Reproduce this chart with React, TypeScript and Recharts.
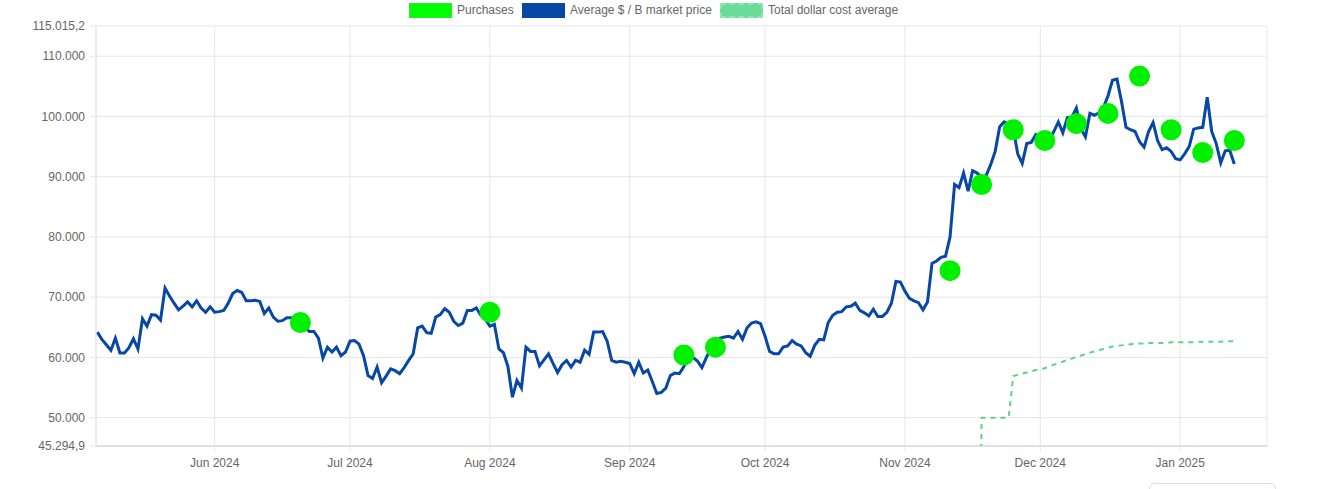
import React from "react";
import { ComposedChart, Line, XAxis, YAxis, CartesianGrid } from "recharts";

// daily average market price, first value is 2024-05-06
const PRICE_START = "2024-05-06";
const marketPrices = [
  64200, 63000, 62100, 61200, 63200, 60750, 60750, 61600, 63100, 61400,
  66400, 65200, 67100, 67000, 66200, 71500, 70200, 69000, 67900, 68500,
  69200, 68400, 69400, 68200, 67500, 68400, 67500, 67600, 67800, 69000,
  70600, 71100, 70800, 69400, 69400, 69500, 69300, 67300, 68200, 66700,
  66000, 66100, 66600, 66600, 66200, 65600, 64900, 64300, 64300, 63200,
  59900, 61700, 60900, 61700, 60300, 60900, 62700, 62800, 62200, 60300,
  57000, 56500, 58400, 55800, 56900, 58100, 57800, 57300, 58300, 59500,
  60600, 64900, 65200, 64100, 64000, 66700, 67100, 68100, 67500, 66000,
  65300, 65700, 67800, 67800, 68200, 67000, 66300, 65200, 65500, 61400,
  60800, 58500, 53400, 56200, 54900, 61700, 61000, 61000, 58600, 59600,
  60600, 59000, 57500, 58800, 59500, 58400, 59500, 59200, 61200, 60500,
  64200, 64200, 64300, 62700, 59500, 59200, 59350, 59200, 59000, 57300,
  59200, 57400, 57900, 56000, 54000, 54200, 54900, 57000, 57400, 57300,
  58500, 60200, 60000, 59400, 58300, 60000, 61500, 62600, 63200, 63400,
  63500, 63200, 64300, 63000, 64900, 65700, 65900, 65600, 63500, 61000,
  60600, 60600, 61700, 61900, 62800, 62200, 61900, 60800, 60200, 62000,
  63000, 62900, 65800, 67000, 67500, 67600, 68400, 68500, 69000, 67800,
  67400, 66900, 68000, 66800, 66800, 67500, 69000, 72600, 72500, 71000,
  69800, 69400, 69100, 67900, 69200, 75600, 76000, 76600, 76800, 80000,
  88700, 88200, 90600, 87600, 91000, 90600, 89900, 90200, 92000, 94200,
  98300, 99100, 98700, 98000, 93800, 92200, 95500, 95700, 97000, 96500,
  96200, 96000, 97500, 99100, 97300, 99800, 99900, 101400, 98000, 96600,
  100500, 100200, 100600, 101500, 103400, 106000, 106200, 102500, 98200, 97800,
  97500, 95800, 94900, 97500, 99000, 96000, 94500, 94800, 94200, 93000,
  92800, 93800, 95000, 97900, 98100, 98200, 103200, 97500, 95500, 92300,
  94300, 94400, 92100,
];

const purchaseDates = [
  "2024-06-20", "2024-08-01", "2024-09-13", "2024-09-20", "2024-11-11",
  "2024-11-18", "2024-11-25", "2024-12-02", "2024-12-09", "2024-12-16",
  "2024-12-23", "2024-12-30", "2025-01-06", "2025-01-13",
];
const purchasePrices = [
  65800, 67500, 60400, 61700, 74400, 88700, 97800, 96000, 98800, 100500,
  106700, 97800, 94000, 96000,
];

// total dollar cost average, first value is 2024-11-17
const DCA_START = "2024-11-17";
const dcaValues = [
  0, 50000, 50000, 50000, 50000, 50000, 50000, 50000,
  56900, 57100, 57300, 57500, 57700, 57900, 58050, 58200, 58500, 58800,
  59000, 59300, 59600, 59800, 60100, 60300, 60500, 60800, 61000, 61200,
  61400, 61600, 61800, 61900, 62000, 62100, 62200, 62300, 62300, 62300,
  62400, 62400, 62400, 62400, 62400, 62500, 62500, 62500, 62500, 62500,
  62500, 62600, 62600, 62600, 62600, 62600, 62600, 62700, 62700, 62700,
];

const yTicks = [45294.9, 50000, 60000, 70000, 80000, 90000, 100000, 110000, 115015.2];
const xTickDates = [
  "2024-06-01", "2024-07-01", "2024-08-01", "2024-09-01",
  "2024-10-01", "2024-11-01", "2024-12-01", "2025-01-01",
];
const monthNames = ["Jan", "Feb", "Mar", "Apr", "May", "Jun", "Jul", "Aug", "Sep", "Oct", "Nov", "Dec"];

const DAY = 86400000;
const toTime = (s: string) => Date.parse(s + "T00:00:00Z");
const t0 = toTime(PRICE_START);
const dayIndex = (s: string) => Math.round((toTime(s) - t0) / DAY);

type Row = { t: number; price: number; purchase: number | null; dca: number | null };
const data: Row[] = marketPrices.map((price, i) => ({ t: t0 + i * DAY, price, purchase: null, dca: null }));
purchaseDates.forEach((d, k) => {
  data[dayIndex(d)].purchase = purchasePrices[k];
});
const dcaOffset = dayIndex(DCA_START);
dcaValues.forEach((v, k) => {
  data[dcaOffset + k].dca = v;
});

const xTicks = xTickDates.map(toTime);

function fmtDe(v: number) {
  const s = Number.isInteger(v) ? String(v) : v.toFixed(1);
  const [intPart, dec] = s.split(".");
  const grouped = intPart.replace(/\B(?=(\d{3})+(?!\d))/g, ".");
  return dec ? `${grouped},${dec}` : grouped;
}

function fmtMonth(t: number) {
  const d = new Date(t);
  return `${monthNames[d.getUTCMonth()]} ${d.getUTCFullYear()}`;
}

const FONT = "'Liberation Sans', Arial, Helvetica, sans-serif";
const tickStyle = { fill: "#666", fontSize: 12, fontFamily: FONT };

function LegendItem({ left, label, box }: { left: number; label: string; box: React.CSSProperties }) {
  return (
    <>
      <div style={{ position: "absolute", left, top: 3, width: 43, height: 15, boxSizing: "border-box", ...box }} />
      <div
        style={{
          position: "absolute",
          left: left + 48,
          top: 3,
          lineHeight: "15px",
          fontSize: 12,
          fontFamily: FONT,
          color: "#666",
          whiteSpace: "nowrap",
        }}
      >
        {label}
      </div>
    </>
  );
}

export default function App() {
  return (
    <div
      style={{
        position: "fixed",
        left: 0,
        top: 0,
        width: 1339,
        height: 489,
        overflow: "hidden",
        background: "#fff",
      }}
    >
      <ComposedChart width={1339} height={489} data={data} margin={{ top: 26, right: 72, bottom: 13, left: 0 }}>
        <CartesianGrid stroke="#e6e6e6" />
        <XAxis
          dataKey="t"
          type="number"
          scale="linear"
          domain={[t0 - 0.3 * DAY, t0 + 259.25 * DAY]}
          allowDataOverflow
          ticks={xTicks}
          tickFormatter={fmtMonth}
          tick={tickStyle}
          axisLine={{ stroke: "#cccccc" }}
          tickLine={{ stroke: "#e6e6e6" }}
          tickSize={5}
          tickMargin={7}
          height={30}
        />
        <YAxis
          type="number"
          domain={[45294.9, 115015.2]}
          allowDataOverflow
          ticks={yTicks}
          interval={0}
          tickFormatter={fmtDe}
          tick={tickStyle}
          axisLine={{ stroke: "#e6e6e6" }}
          tickLine={{ stroke: "#e6e6e6" }}
          tickSize={6}
          tickMargin={5}
          width={96}
        />
        <Line
          dataKey="dca"
          stroke="#5fd18b"
          strokeWidth={2}
          strokeDasharray="5 5"
          dot={false}
          activeDot={false}
          connectNulls={false}
          isAnimationActive={false}
        />
        <Line
          dataKey="price"
          stroke="#0747a6"
          strokeWidth={3}
          dot={false}
          activeDot={false}
          isAnimationActive={false}
        />
        <Line
          dataKey="purchase"
          stroke="none"
          dot={{ r: 10.5, fill: "#00f000", stroke: "none" }}
          activeDot={false}
          connectNulls={false}
          isAnimationActive={false}
        />
      </ComposedChart>

      <LegendItem left={409} label="Purchases" box={{ background: "#00ff00", border: "1px solid #33e633" }} />
      <LegendItem left={522} label="Average $ / B market price" box={{ background: "#0747a6" }} />
      <LegendItem
        left={720}
        label="Total dollar cost average"
        box={{ background: "#6bdb98", border: "2px dashed #8fe6b3" }}
      />

      <div
        style={{
          position: "absolute",
          left: 1149,
          top: 483,
          width: 127,
          height: 20,
          border: "1px solid #dddddd",
          borderRadius: 6,
          boxSizing: "border-box",
        }}
      />
    </div>
  );
}
